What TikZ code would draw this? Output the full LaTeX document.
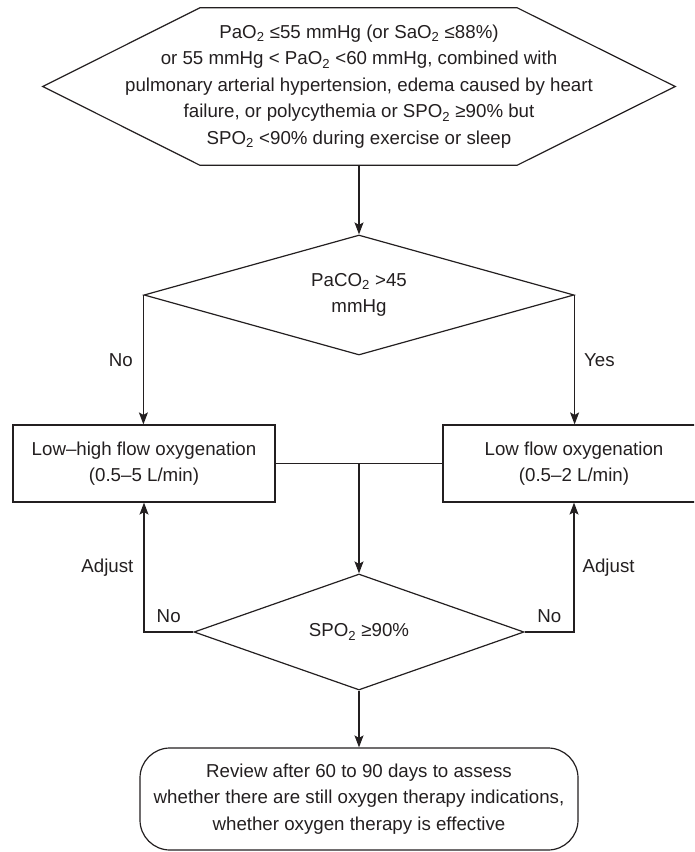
\documentclass[tikz,border=0pt]{standalone}
\usepackage{fontspec}
\setmainfont{Liberation Sans}
\usetikzlibrary{shapes.geometric,arrows.meta,calc}
\definecolor{ink}{HTML}{231F20}
\begin{document}
\begin{tikzpicture}[x=1pt,y=-1pt,
  every node/.style={font=\fontsize{18.7}{26.5}\selectfont, text=ink, align=center},
  line/.style={draw=ink, line width=1.2pt},
  arr/.style={line, -{Stealth[length=12pt,width=9pt,inset=2.5pt]}},
  dia/.style={shape=diamond, draw=ink, line width=1.2pt, aspect=3.6, inner sep=0pt},
  boxn/.style={draw=ink, line width=1.2pt, minimum width=262pt, minimum height=77pt, inner sep=0pt},
  lbl/.style={inner sep=0pt}
]
\useasboundingbox (0,0) rectangle (694,852);
\clip (0,0) rectangle (694,852);

% top hexagon
\node[minimum width=632pt, minimum height=157pt, inner sep=0pt] (hex) at (359,86.5)
  {PaO\textsubscript{2} ≤55 mmHg (or SaO\textsubscript{2} ≤88\%)\\
   or 55 mmHg < PaO\textsubscript{2} <60 mmHg, combined with\\
   pulmonary arterial hypertension, edema caused by heart\\
   failure, or polycythemia or SPO\textsubscript{2} ≥90\% but\\
   SPO\textsubscript{2} <90\% during exercise or sleep};
\draw[line] (hex.west) -- ($(hex.north west)+(157,0)$) -- ($(hex.north east)+(-158,0)$)
  -- (hex.east) -- ($(hex.south east)+(-158,0)$) -- ($(hex.south west)+(157,0)$) -- cycle;

% first decision
\node[dia, minimum width=430pt, minimum height=120pt] (d1) at (359,295)
  {PaCO\textsubscript{2} >45\\mmHg};

% boxes
\node[boxn] (lb) at (144,463.5) {Low–high flow oxygenation\\(0.5–5 L/min)};
\node[boxn] (rb) at (574,463.5) {Low flow oxygenation\\(0.5–2 L/min)};

% second decision
\node[dia, minimum width=330pt, minimum height=116pt] (d2) at (359,632)
  {SPO\textsubscript{2} ≥90\%};

% final box
\node[draw=ink, line width=1.2pt, rounded corners=30pt, minimum width=438pt,
      minimum height=102pt, inner sep=0pt] (fin) at (359,799)
  {Review after 60 to 90 days to assess\\
   whether there are still oxygen therapy indications,\\
   whether oxygen therapy is effective};

% connectors
\draw[arr] (hex.south) -- (d1.north);
\draw[arr] (d1.west) -- node[left=10pt,lbl]{No} (d1.west |- lb.north);
\draw[arr] (d1.east) -- node[right=9pt,lbl]{Yes} (d1.east |- rb.north);
\draw[line] (lb.east) -- (rb.west);
\coordinate (j) at (lb.east -| d2.north);
\draw[arr] (j) -- (d2.north);
\draw[arr] (d2.west) -- node[above=9pt,lbl]{No} (d2.west -| lb.south)
  -- node[left=10pt,lbl]{Adjust} (lb.south);
\draw[arr] (d2.east) -- node[above=9pt,lbl]{No} (d2.east -| rb.south)
  -- node[right=8pt,lbl]{Adjust} (rb.south);
\draw[arr] (d2.south) -- (fin.north);
\end{tikzpicture}
\end{document}
